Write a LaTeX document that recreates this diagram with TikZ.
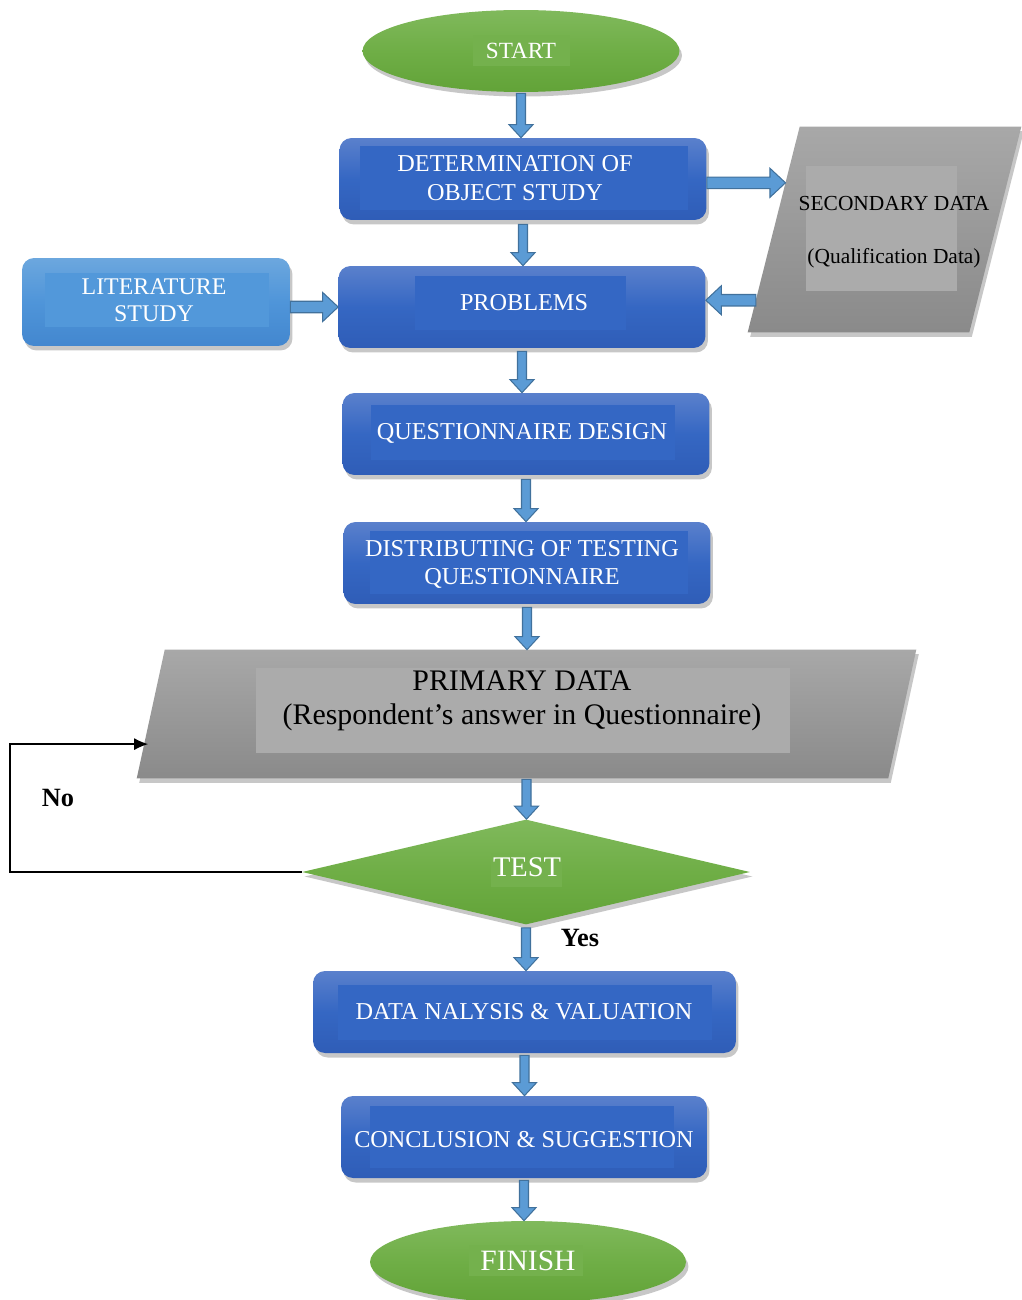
\documentclass[tikz,border=0pt]{standalone}
\usepackage{fontspec}
\setmainfont{Liberation Serif}
\usetikzlibrary{shapes.geometric,shadows,calc,arrows.meta}
\definecolor{bluetop}{HTML}{5A80CC}
\definecolor{bluemid}{HTML}{3567C3}
\definecolor{bluebot}{HTML}{2F5DB7}
\definecolor{blueinner}{HTML}{3467C4}
\definecolor{littop}{HTML}{6CA7DE}
\definecolor{litmid}{HTML}{4F95D9}
\definecolor{litbot}{HTML}{4387CF}
\definecolor{litinner}{HTML}{5298DA}
\definecolor{greentop}{HTML}{80B95C}
\definecolor{greenmid}{HTML}{6FAE46}
\definecolor{greenbot}{HTML}{62A338}
\definecolor{greeninner}{HTML}{74B14D}
\definecolor{graytop}{HTML}{A8A8A8}
\definecolor{graybot}{HTML}{8A8A8A}
\definecolor{grayinner}{HTML}{ABABAB}
\definecolor{arrowfill}{HTML}{5B9BD5}
\definecolor{arrowedge}{HTML}{41719C}
\newcommand\blockarrow[5]{%
  \coordinate (bas) at (#1);
  \coordinate (bae) at (#2);
  \coordinate (bah) at ($(bae)!#5!(bas)$);
  \draw[barrow] ($(bas)!#3!90:(bae)$) -- ($(bah)!#3!90:(bae)$) -- ($(bah)!#4!90:(bae)$) -- (bae)
    -- ($(bah)!#4!-90:(bae)$) -- ($(bah)!#3!-90:(bae)$) -- ($(bas)!#3!-90:(bae)$) -- cycle;
}
\newcommand\varrow[2]{\blockarrow{#1}{#2}{0.09cm}{0.24cm}{0.26cm}}
\newcommand\harrow[2]{\blockarrow{#1}{#2}{0.115cm}{0.29cm}{0.31cm}}
\begin{document}
\begin{tikzpicture}[x=0.02cm,y=-0.02cm,
  softshadow/.style={drop shadow={shadow xshift=0.05cm,shadow yshift=-0.09cm,opacity=0.22,fill=black}},
  bluebox/.style={shape=rectangle, rounded corners=0.24cm, minimum width=7.34cm, minimum height=1.64cm,
     top color=bluetop, bottom color=bluebot, middle color=bluemid, softshadow, inner sep=0pt},
  litbox/.style={shape=rectangle, rounded corners=0.24cm, minimum width=5.36cm, minimum height=1.76cm,
     top color=littop, bottom color=litbot, middle color=litmid, softshadow, inner sep=0pt},
  greenell/.style={shape=ellipse, minimum width=6.34cm, minimum height=1.64cm, inner sep=0pt,
     top color=greentop, bottom color=greenbot, middle color=greenmid, softshadow},
  grayshape/.style={top color=graytop, bottom color=graybot, softshadow},
  frame/.style={shape=rectangle, inner sep=0pt},
  wtext/.style={text=white, align=center, inner sep=0pt, font=\fontsize{13.8}{16.5}\selectfont},
  ktext/.style={text=black, align=center, inner sep=0pt},
  barrow/.style={fill=arrowfill, draw=arrowedge, line width=0.6pt, line join=miter},
  noline/.style={draw=black, line width=0.8pt, -{Latex[length=0.28cm,width=0.24cm]}},
  lbl/.style={font=\fontsize{15}{18}\selectfont\bfseries, inner sep=0pt}
]
\useasboundingbox (0,0) rectangle (1021,1300);

% ---- shapes ----
\node[greenell] (start) at (521,51) {};
\fill[greeninner] (473,35) rectangle (570,66);
\node[wtext, font=\fontsize{13.2}{15}\selectfont] (startT) at (521,51) {START};

\node[bluebox] (det) at (523,179) {};
\fill[blueinner] (360,146) rectangle (688,210);
\node[wtext] (detT) at (515,178) {DETERMINATION OF\\OBJECT STUDY};

\node[frame, minimum width=5.46cm, minimum height=4.1cm] (sec) at (884.5,229.5) {};
\coordinate (secTL) at ($(sec.north west)+(52,0)$);
\path[grayshape] (secTL) -- (sec.north east) -- ($(sec.south east)+(-52,0)$) -- (sec.south west) -- cycle;
\fill[grayinner] (806,166) rectangle (957,291);
\node[ktext, font=\fontsize{12.2}{30}\selectfont] (secT) at (894,232) {SECONDARY DATA\\(Qualification Data)};

\node[litbox] (lit) at (156,302) {};
\fill[litinner] (45,273) rectangle (269,327);
\node[wtext, font=\fontsize{13.6}{15.4}\selectfont] (litT) at (154,300) {LITERATURE\\STUDY};

\node[bluebox] (prob) at (522,307) {};
\fill[blueinner] (415,276) rectangle (626,330);
\node[wtext] (probT) at (524,303) {PROBLEMS};

\node[bluebox] (qd) at (526,434) {};
\fill[blueinner] (371,405) rectangle (675,460);
\node[wtext] (qdT) at (522,433) {QUESTIONNAIRE DESIGN};

\node[bluebox] (dist) at (527,563) {};
\fill[blueinner] (370,531) rectangle (688,594);
\node[wtext, font=\fontsize{13.8}{16}\selectfont] (distT) at (522,564) {DISTRIBUTING OF TESTING\\QUESTIONNAIRE};

\node[frame, minimum width=15.58cm, minimum height=2.56cm] (prim) at (526.5,714) {};
\coordinate (primTL) at ($(prim.north west)+(28,0)$);
\path[grayshape] (primTL) -- (prim.north east) -- ($(prim.south east)+(-28,0)$) -- (prim.south west) -- cycle;
\fill[grayinner] (256,668) rectangle (790,753);
\node[ktext, font=\fontsize{17}{19.6}\selectfont] (primT) at (522,701) {PRIMARY DATA\\(Respondent’s answer in Questionnaire)};

\node[shape=diamond, minimum width=8.96cm, minimum height=2.1cm, inner sep=0pt,
      top color=greentop, bottom color=greenbot, middle color=greenmid, softshadow] (test) at (526,872) {};
\fill[greeninner] (491,853) rectangle (562,887);
\node[wtext, font=\fontsize{16.2}{19}\selectfont] (testT) at (527,867) {TEST};

\node[bluebox, minimum width=8.46cm] (dna) at (524.5,1012) {};
\fill[blueinner] (338,985) rectangle (712,1040);
\node[wtext] (dnaT) at (524,1012) {DATA NALYSIS \& VALUATION};

\node[bluebox, minimum width=7.32cm] (conc) at (524,1137) {};
\fill[blueinner] (370,1106) rectangle (674,1168);
\node[wtext] (concT) at (524,1140) {CONCLUSION \& SUGGESTION};

\node[greenell, minimum width=6.32cm] (finish) at (528,1262) {};
\fill[greeninner] (469,1245) rectangle (583,1276);
\node[wtext, font=\fontsize{16.8}{19}\selectfont] (finishT) at (528,1261) {FINISH};

% ---- connectors ----
\varrow{$(start.south)+(0,1)$}{start.south |- det.north}
\varrow{$(det.south)+(0,4)$}{det.south |- prob.north}
\varrow{$(prob.south)+(0,3)$}{prob.south |- qd.north}
\varrow{$(qd.south)+(0,4)$}{qd.south |- dist.north}
\varrow{$(dist.south)+(0,3)$}{dist.south |- prim.north}
\varrow{$(prim.south)+(0,1)$}{prim.south |- test.north}
\varrow{$(test.south)+(0,3)$}{test.south |- dna.north}
\varrow{$(dna.south)+(0,2)$}{dna.south |- conc.north}
\varrow{$(conc.south)+(0,2)$}{conc.south |- finish.north}

\coordinate (secA) at ($(secTL)!0.273!(sec.south west)$);
\coordinate (secB) at ($(secTL)!0.844!(sec.south west)$);
\harrow{det.east |- secA}{secA}
\harrow{secB}{prob.east |- secB}
\harrow{lit.east |- prob.west}{prob.west}

\coordinate (primIn) at ($(primTL)!0.734!(prim.south west)$);
\coordinate (loopL) at (10,876);
\draw[noline] (test.west) -- (test.west -| loopL) |- ($(primIn)+(4,0)$);

\node[lbl] (no) at (58,798) {No};
\node[lbl] (yes) at (580,938) {Yes};
\end{tikzpicture}
\end{document}
